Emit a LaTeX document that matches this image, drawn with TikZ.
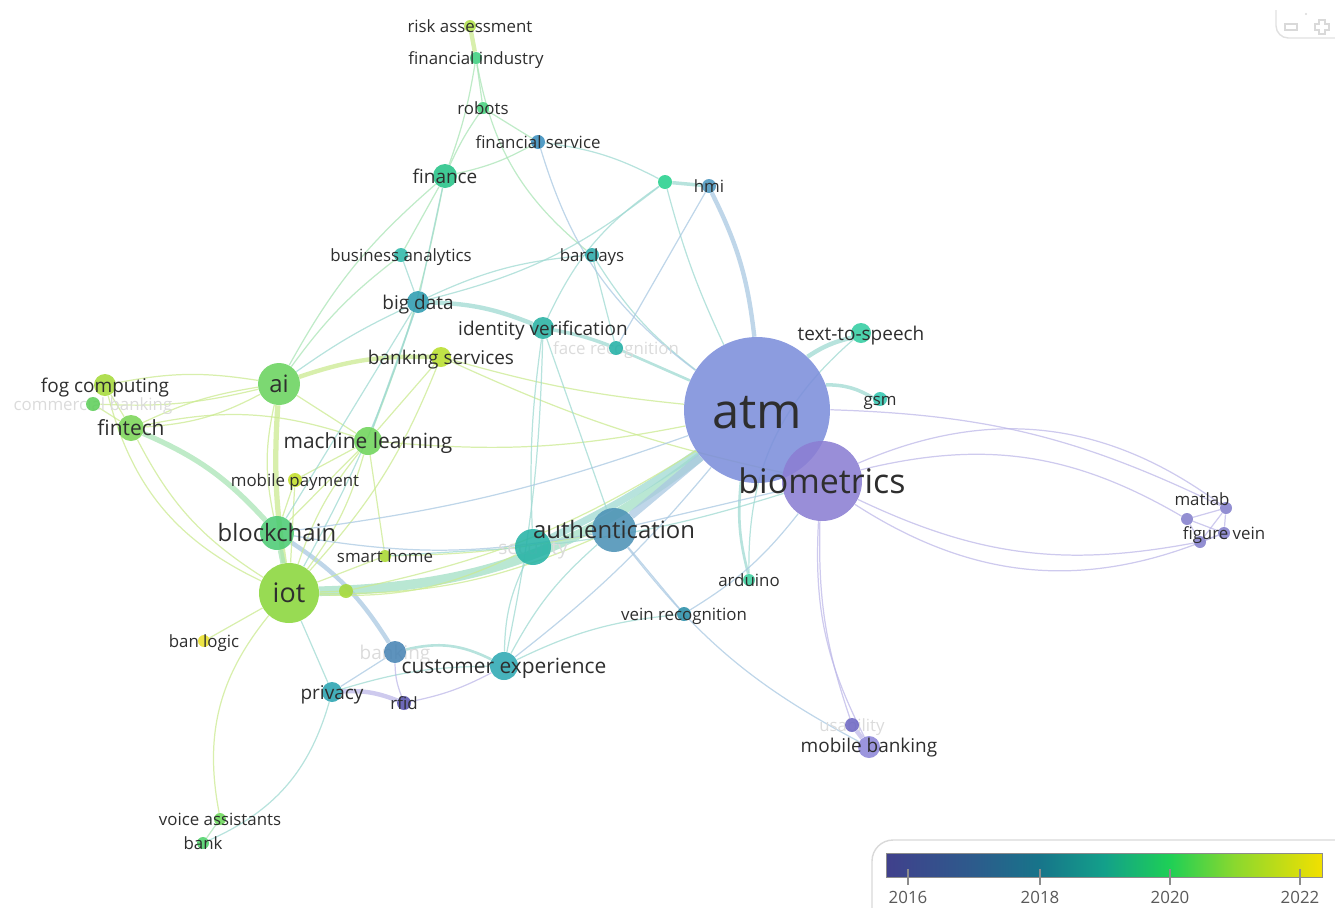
\documentclass[tikz,border=0pt]{standalone}
\usepackage{fontspec}
\setmainfont{Open Sans}
\usetikzlibrary{positioning}
\definecolor{v16}{HTML}{40408C}
\definecolor{v17}{HTML}{2D5B8C}
\definecolor{v18}{HTML}{17748A}
\definecolor{v19}{HTML}{13A08A}
\definecolor{v20}{HTML}{1ECF56}
\definecolor{v21}{HTML}{8BD82E}
\definecolor{v22}{HTML}{F2E000}
\definecolor{elime}{HTML}{CBEA90}
\definecolor{egreen}{HTML}{A9E4B5}
\definecolor{eteal}{HTML}{9FD9D2}
\definecolor{eblue}{HTML}{A9C8E2}
\definecolor{epurple}{HTML}{BDB8E8}
\definecolor{band}{HTML}{A2DFC4}
\pgfdeclarehorizontalshading{viridis}{100bp}{color(0bp)=(v16); color(25bp)=(v16); color(35bp)=(v17);
  color(42.5bp)=(v18); color(50bp)=(v19); color(57.5bp)=(v20); color(65bp)=(v21); color(75bp)=(v22); color(100bp)=(v22)}
\pgfdeclarelayer{links}
\pgfsetlayers{links,main}
\tikzset{
  kw/.style={circle, inner sep=0pt, fill opacity=0.88, /utils/exec={\definecolor{kwc}{HTML}{#1}}, fill=kwc},
  sz/.style={minimum size=#1*0.4mm},
  lab/.style={text=black!82, inner sep=0pt},
  ghost/.style={lab, text=black!14},
  fsz/.style={font=\fontsize{#1}{#1}\selectfont, text height={0.74*#1pt}, text depth=0pt},
  fs1/.style={fsz=9.6}, fs2/.style={fsz=10.8}, fs3/.style={fsz=11.9}, fs4/.style={fsz=13.6},
  fs5/.style={fsz=15.3}, fs6/.style={fsz=19.3}, fs7/.style={fsz=27.8},
  lk/.style={draw=#1, line width=0.7pt, draw opacity=0.75},
  yr/.style={text=black!65, font=\fontsize{9.6}{10}\selectfont, inner sep=0pt},
}

\begin{document}
\begin{tikzpicture}[x=0.02cm, y=-0.02cm]
  \useasboundingbox (0,0) rectangle (1335,907);
  % keyword circles
  \node[kw=7C8EDB, sz=73] (atm) at (757,410) {};
  \node[kw=8B7ED3, sz=40] (bio) at (822,481) {};
  \node[kw=4C92B6, sz=22] (auth) at (614,530) {};
  \node[kw=27B3A6, sz=18] (sec) at (533,547) {};
  \node[kw=8AD63B, sz=30] (iot) at (289,593) {};
  \node[kw=4CCB74, sz=17] (bchain) at (277,533) {};
  \node[kw=6AD35E, sz=21] (ai) at (279,384) {};
  \node[kw=6ED45A, sz=14] (ml) at (368,441) {};
  \node[kw=7BD558, sz=13] (fintech) at (131,428) {};
  \node[kw=A5DA3A, sz=11] (fog) at (105,385) {};
  \node[kw=5ECE5A, sz=7] (comm) at (93,404) {};
  \node[kw=25C388, sz=12] (finance) at (445,176) {};
  \node[kw=2E9CB0, sz=11] (bigdata) at (418,302) {};
  \node[kw=2FB8A8, sz=7] (busan) at (401,255) {};
  \node[kw=2BA8A8, sz=7] (barclays) at (592,255) {};
  \node[kw=28B2A3, sz=11] (idver) at (543,328) {};
  \node[kw=22B0A6, sz=7] (face) at (616,348) {};
  \node[kw=B8DE2E, sz=10] (banksv) at (441,357) {};
  \node[kw=33CDA2, sz=10] (tts) at (861,333) {};
  \node[kw=33C7B0, sz=7] (gsm) at (880,399) {};
  \node[kw=4C96BE, sz=7] (hmi) at (709,186) {};
  \node[kw=27D08D, sz=7] (unk1) at (665,182) {};
  \node[kw=B0E04A, sz=6] (risk) at (470,26) {};
  \node[kw=3DCF80, sz=6] (finind) at (476,58) {};
  \node[kw=48D07E, sz=6] (robots) at (483,108) {};
  \node[kw=3A8EBE, sz=7] (finsv) at (538,142) {};
  \node[kw=C2DE28, sz=7] (mpay) at (295,480) {};
  \node[kw=A8D830, sz=6] (smart) at (385,556) {};
  \node[kw=A6DA3A, sz=7] (unk2) at (346,591) {};
  \node[kw=EAE02A, sz=6] (banlogic) at (204,641) {};
  \node[kw=4884B4, sz=11] (banking) at (395,652) {};
  \node[kw=2DA8B3, sz=14] (custexp) at (504,666) {};
  \node[kw=29A3B0, sz=10] (privacy) at (332,692) {};
  \node[kw=5954AF, sz=7] (rfid) at (404,703) {};
  \node[kw=3CCF9F, sz=6] (arduino) at (749,580) {};
  \node[kw=2A8EA8, sz=7] (vein) at (684,614) {};
  \node[kw=6D67C3, sz=7] (usab) at (852,725) {};
  \node[kw=8D86D8, sz=11] (mobbank) at (869,747) {};
  \node[kw=8480CC, sz=6] (m1) at (1226,508) {};
  \node[kw=8480CC, sz=6] (m2) at (1187,519) {};
  \node[kw=8480CC, sz=6] (m3) at (1200,542) {};
  \node[kw=8480CC, sz=6] (m4) at (1224,533) {};
  \node[kw=6CD85A, sz=6] (voice) at (220,819) {};
  \node[kw=4ED26A, sz=6] (bank) at (203,843) {};

  % labels
  \node[lab, fs1] (risk-l) at (risk) {risk assessment};
  \node[lab, fs1] (finind-l) at (finind) {financial industry};
  \node[lab, fs1] (robots-l) at (robots) {robots};
  \node[lab, fs1] (finsv-l) at (finsv) {financial service};
  \node[lab, fs2] (finance-l) at (finance) {finance};
  \node[lab, fs1] (hmi-l) at (hmi) {hmi};
  \node[lab, fs1] (busan-l) at (busan) {business analytics};
  \node[lab, fs1] (barclays-l) at (barclays) {barclays};
  \node[lab, fs2] (bigdata-l) at (bigdata) {big data};
  \node[lab, fs2] (idver-l) at (idver) {identity verification};
  \node[lab, fs2] (banksv-l) at (banksv) {banking services};
  \node[lab, fs2] (tts-l) at (tts) {text-to-speech};
  \node[lab, fs2] (fog-l) at (fog) {fog computing};
  \node[lab, fs4] (ai-l) at (ai) {ai};
  \node[lab, fs7] (atm-l) at (atm) {atm};
  \node[lab, fs1] (gsm-l) at (gsm) {gsm};
  \node[lab, fs3] (fintech-l) at (fintech) {fintech};
  \node[lab, fs3] (ml-l) at (ml) {machine learning};
  \node[lab, fs6] (bio-l) at (bio) {biometrics};
  \node[lab, fs1] (mpay-l) at (mpay) {mobile payment};
  \node[lab, fs1] (matlab-l) at (1202,499) {matlab};
  \node[lab, fs4] (bchain-l) at (bchain) {blockchain};
  \node[lab, fs4] (auth-l) at (auth) {authentication};
  \node[lab, fs1] (vein2-l) at (m4) {figure vein};
  \node[lab, fs1] (smart-l) at (smart) {smart home};
  \node[lab, fs1] (arduino-l) at (arduino) {arduino};
  \node[lab, fs5] (iot-l) at (iot) {iot};
  \node[lab, fs1] (vein-l) at (vein) {vein recognition};
  \node[lab, fs1] (banlogic-l) at (banlogic) {ban logic};
  \node[lab, fs3] (custexp-l) at (custexp) {customer experience};
  \node[lab, fs2] (privacy-l) at (privacy) {privacy};
  \node[lab, fs1] (rfid-l) at (rfid) {rfid};
  \node[lab, fs2] (mobbank-l) at ([yshift=1pt]mobbank) {mobile banking};
  \node[lab, fs1] (voice-l) at (voice) {voice assistants};
  \node[lab, fs1] (bank-l) at (bank) {bank};

  \begin{pgfonlayer}{links}
    % heavy links
    \draw[lk=band, line width=5.5pt] (iot) to[bend right=18] (atm);
    \draw[lk=eteal, line width=4pt] (sec) to[bend right=4] (atm);
    \draw[lk=eblue, line width=4.5pt] (auth) to (atm);
    \draw[lk=eblue, line width=2.5pt] (hmi) to[bend left=10] (atm);
    \draw[lk=eteal, line width=2.5pt] (tts) to[bend right=10] (atm);
    \draw[lk=eteal, line width=2pt] (gsm) to[bend right=15] (atm);
    \draw[lk=elime, line width=3pt] (ai) to[bend right=6] (iot);
    \draw[lk=egreen, line width=3pt] (fintech) to[bend left=12] (bchain);
    \draw[lk=egreen, line width=3pt] (bchain) to (iot);
    \draw[lk=elime, line width=2.5pt] (ai) to[bend left=10] (banksv);
    \draw[lk=eteal, line width=2.5pt] (bigdata) to[bend left=10] (idver);
    \draw[lk=eteal, line width=2pt] (idver) to[bend left=5] (face);
    \draw[lk=eteal, line width=1.5pt] (face) to (atm);
    \draw[lk=eblue, line width=2.5pt] (bchain) to[bend left=12] (banking);
    \draw[lk=epurple, line width=2.5pt] (privacy) to[bend left=12] (rfid);
    \draw[lk=epurple, line width=2.5pt] (usab) to (mobbank);
    \draw[lk=elime, line width=2.5pt] (risk) to (finind);
    \draw[lk=eteal, line width=2pt] (unk1) to (hmi);
    \draw[lk=eteal, line width=1.5pt] (arduino) to[bend left=10] (atm);
    \draw[lk=eteal, line width=1.5pt] (banking) to[bend left=20] (custexp);
    % light links
    \foreach \a/\b/\c in {ai/fintech/12, ai/fintech/-8, ai/fog/-10, ai/comm/8, ai/ml/0, ai/bchain/-12,
      fog/fintech/0, fog/iot/-25, comm/fintech/0, fintech/iot/-15, fintech/ml/15, ml/iot/10, ml/iot/-10,
      ml/bchain/0, mpay/iot/0, mpay/bchain/0, mpay/ml/0, iot/auth/-12, iot/sec/-14, iot/smart/0, iot/unk2/0,
      iot/banlogic/0, iot/voice/-25, banksv/atm/-5, banksv/ml/0, banksv/iot/10, unk2/atm/-10, smart/auth/-5,
      ml/smart/0, ml/atm/-8, banksv/bio/-6}
      \draw[lk=elime] (\a) to[bend left=\c] (\b);
    \foreach \a/\b/\c in {voice/bank/0, finance/busan/0, finance/robots/5, finance/finind/-5, finance/finsv/-8,
      finind/robots/0, robots/finsv/0, finance/ml/5, finance/ai/-10, busan/ai/-8, finind/barclays/-20}
      \draw[lk=egreen] (\a) to[bend left=\c] (\b);
    \foreach \a/\b/\c in {smart/sec/0, custexp/auth/10, custexp/vein/10, custexp/sec/12, privacy/bank/25,
      privacy/custexp/8, idver/auth/0, idver/sec/-5, unk1/atm/-5, unk1/idver/-15, finance/bigdata/0,
      busan/bigdata/0, bigdata/ai/-5, bigdata/iot/5, bigdata/bchain/0, bigdata/ml/0, barclays/face/0,
      barclays/atm/-10, barclays/bigdata/-10, finsv/unk1/10, iot/privacy/0, idver/custexp/5, unk1/bigdata/12,
      tts/arduino/-25, sec/bio/-5}
      \draw[lk=eteal] (\a) to[bend left=\c] (\b);
    \foreach \a/\b/\c in {bchain/atm/-6, bchain/auth/-10, auth/vein/0, auth/mobbank/-12, vein/bio/-10,
      finsv/atm/-18, custexp/atm/-6, privacy/banking/0, hmi/face/0, auth/bio/0}
      \draw[lk=eblue] (\a) to[bend left=\c] (\b);
    \foreach \a/\b/\c in {rfid/custexp/-8, rfid/banking/10, bio/mobbank/-15, bio/usab/-10, bio/m1/30,
      bio/m2/22, bio/m3/-18, bio/m4/-28, atm/m1/12, m1/m2/0, m1/m3/0, m2/m4/0, m3/m4/0, m2/m3/0, m1/m4/0}
      \draw[lk=epurple] (\a) to[bend left=\c] (\b);
    % faint labels, under the circles
    \node[ghost, fs1] (face-l) at (face) {face recognition};
    \node[ghost, fs1] (comm-l) at (comm) {commercial banking};
    \node[ghost, fs2] (sec-l) at (sec) {security};
    \node[ghost, fs2] (banking-l) at (banking) {banking};
    \node[ghost, fs1] (usab-l) at (usab) {usability};
  \end{pgfonlayer}

  % zoom control
  \draw[black!12, line width=0.8pt, rounded corners=7] (1276,10) -- (1276,38) -- (1340,38);
  \fill[black!15] (1306,14) circle (1.2);
  \draw[black!15, line width=0.6pt] (1285,24) rectangle (1297,30);
  \draw[black!15, line width=0.6pt] (1319,20) -- (1325,20) -- (1325,24) -- (1329,24) -- (1329,30) -- (1325,30)
    -- (1325,34) -- (1319,34) -- (1319,30) -- (1315,30) -- (1315,24) -- (1319,24) -- cycle;

  % colour scale
  \draw[black!15, line width=0.8pt, rounded corners=12] (872,915) -- (872,840) -- (1345,840);
  \shade[shading=viridis] (886,853) rectangle (1322,877);
  \draw[black!45, line width=0.4pt] (886,853) rectangle (1322,877);
  \foreach \yr/\xx in {2016/908, 2018/1040, 2020/1170, 2022/1300} {
    \node[yr] (y\yr) at (\xx,897) {\yr};
    \draw[black!45, line width=0.6pt] (\xx,869) -- ([yshift=3]y\yr.north);
  }
\end{tikzpicture}
\end{document}
